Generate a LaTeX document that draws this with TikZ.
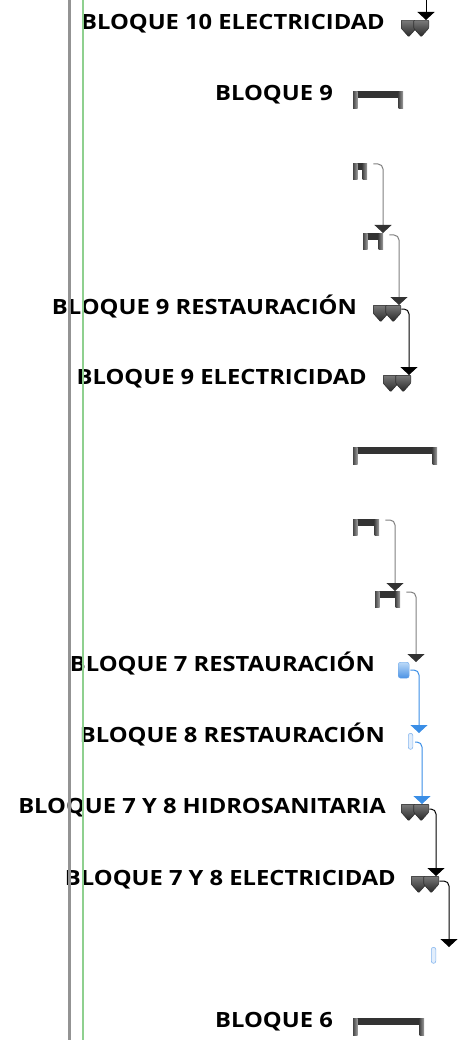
\documentclass[tikz,border=0pt]{standalone}
\usepackage{fontspec}
\setmainfont{Open Sans}[FakeStretch=1.13]
\usepackage{xcolor}
\usepackage{tikz}
\usetikzlibrary{arrows.meta,calc,positioning}
\definecolor{barcol}{HTML}{333333}
\definecolor{capdark}{HTML}{4A4A4A}
\definecolor{caplight}{HTML}{A3A3A3}
\definecolor{msTop}{HTML}{7A7A7A}
\definecolor{msBot}{HTML}{262626}
\definecolor{msEdge}{HTML}{303030}
\definecolor{linkgray}{HTML}{7F7F7F}
\definecolor{linkblue}{HTML}{3A8EE6}
\definecolor{bluetop}{HTML}{BCDAF8}
\definecolor{bluebot}{HTML}{4A92E4}
\definecolor{blueedge}{HTML}{6EA8EA}
\definecolor{ovalfill}{HTML}{E2EEFC}
\definecolor{ovaledge}{HTML}{86B6EE}
\definecolor{gridgray}{HTML}{939393}
\definecolor{todaygreen}{HTML}{8FD08F}
\tikzset{>=latex}
\tikzset{
  lbl/.style={font=\bfseries\fontsize{21}{23}\selectfont, inner sep=0pt,
    text height=15pt, text depth=4pt},
  taskbar/.style={minimum width=#1, minimum height=17pt, inner sep=0pt,
    path picture={
      \fill[barcol] (path picture bounding box.north west)
        rectangle ([yshift=-6.5pt]path picture bounding box.north east);
      \shade[left color=capdark, right color=caplight]
        (path picture bounding box.north west)
        rectangle ([xshift=4.5pt]path picture bounding box.south west);
      \shade[left color=capdark, right color=caplight]
        ([xshift=-4.5pt]path picture bounding box.north east)
        rectangle (path picture bounding box.south east);
    }},
  mspair/.style={minimum width=28pt, minimum height=17pt, inner sep=0pt,
    path picture={
      \foreach \dx in {0,12.5}{
        \shade[top color=msTop, bottom color=msBot, draw=msEdge,
          line width=0.6pt, rounded corners=0.8pt]
          ([xshift=\dx pt]path picture bounding box.north west)
          -- ++(15,0) -- ++(0,8) -- ++(-7.5,8.5) -- ++(-7.5,-8.5) -- cycle;
      }
    }},
  bluetask/.style={minimum width=11pt, minimum height=16pt, inner sep=0pt,
    rounded corners=2.5pt, draw=blueedge, top color=bluetop, bottom color=bluebot},
  oval/.style={minimum width=4.5pt, minimum height=16pt, inner sep=0pt,
    rounded corners=2.2pt, draw=ovaledge, fill=ovalfill, line width=0.6pt},
  link/.style={draw=linkgray, line width=1pt, rounded corners=5pt,
    -{Triangle[width=17pt,length=8pt,color=black!80]}},
  mlink/.style={link, draw=black, -{Triangle[width=17pt,length=8pt,color=black]}},
  blink/.style={link, draw=linkblue, -{Triangle[width=17pt,length=8pt,color=linkblue]}}
}

\begin{document}
\begin{tikzpicture}[x=1pt,y=-1pt]
  \useasboundingbox (0,0) rectangle (461,1040);

  % bars
  \node[mspair, anchor=north west] (m1) at (401,20) {};
  \node[taskbar=50pt, anchor=north west] (s2) at (353,91) {};
  \node[taskbar=14pt, anchor=north west, minimum height=16pt] (t3) at (353,163) {};
  \node[taskbar=20pt, anchor=north west, minimum height=16pt] (t4) at (363,233) {};
  \node[mspair, anchor=north west] (m5) at (373,305) {};
  \node[mspair, anchor=north west] (m6) at (383,375) {};
  \node[taskbar=84pt, anchor=north west] (s7) at (353,447) {};
  \node[taskbar=26pt, anchor=north west, minimum height=16pt] (t8) at (353,519) {};
  \node[taskbar=25pt, anchor=north west, minimum height=16pt] (t9) at (375,591) {};
  \node[bluetask, anchor=north west] (b10) at (398,662) {};
  \node[oval, anchor=north west] (e11) at (408,733) {};
  \node[mspair, anchor=north west] (m12) at (401,804) {};
  \node[mspair, anchor=north west] (m13) at (411,876) {};
  \node[oval, anchor=north west] (e14) at (431,947) {};
  \node[taskbar=71pt, anchor=north west] (s15) at (353,1018) {};

  % names
  \node[lbl, left=16pt of m1.north west, yshift=-4pt] (m1l) {BLOQUE 10 ELECTRICIDAD};
  \node[lbl, left=20pt of s2.north west, yshift=-4pt] (s2l) {BLOQUE 9};
  \node[lbl, left=16pt of m5.north west, yshift=-4pt] (m5l) {BLOQUE 9 RESTAURACIÓN};
  \node[lbl, left=16pt of m6.north west, yshift=-4pt] (m6l) {BLOQUE 9 ELECTRICIDAD};
  \node[lbl, left=23pt of b10.north west, yshift=-4pt] (b10l) {BLOQUE 7 RESTAURACIÓN};
  \node[lbl, left=23pt of e11.north west, yshift=-4pt] (e11l) {BLOQUE 8 RESTAURACIÓN};
  \node[lbl, left=15pt of m12.north west, yshift=-4pt] (m12l) {BLOQUE 7 Y 8 HIDROSANITARIA};
  \node[lbl, left=15pt of m13.north west, yshift=-4pt] (m13l) {BLOQUE 7 Y 8 ELECTRICIDAD};
  \node[lbl, left=20pt of s15.north west, yshift=-4pt] (s15l) {BLOQUE 6};

  % grid lines, over the names
  \draw[gridgray, line width=3pt] (69,0) -- (69,1040);
  \draw[todaygreen, line width=2pt] (83,0) -- (83,1040);

  % links
  \coordinate (c0) at (426,0);
  \draw[mlink] (c0) -- (c0 |- m1.north);
  \draw[link] ([xshift=6pt,yshift=-1pt]t3.north east) -| (383,0 |- t4.north);
  \draw[link] ([xshift=6pt,yshift=-2pt]t4.north east) -| (399,0 |- m5.north);
  \draw[mlink] ([yshift=-4pt]m5.north east) -| (409,0 |- m6.north);
  \draw[link] ([xshift=6pt,yshift=-1pt]t8.north east) -| (395,0 |- t9.north);
  \draw[link] ([xshift=6pt,yshift=-1pt]t9.north east) -| (416,0 |- b10.north);
  \draw[blink] ([xshift=1pt,yshift=-8pt]b10.north east) -| (419,0 |- e11.north);
  \draw[blink] ([xshift=2pt,yshift=-9pt]e11.north east) -| (422,0 |- m12.north);
  \draw[mlink] ([yshift=-5pt]m12.north east) -| (436,0 |- m13.north);
  \draw[mlink] ([yshift=-5pt]m13.north east) -| (449,0 |- e14.north);
\end{tikzpicture}
\end{document}
